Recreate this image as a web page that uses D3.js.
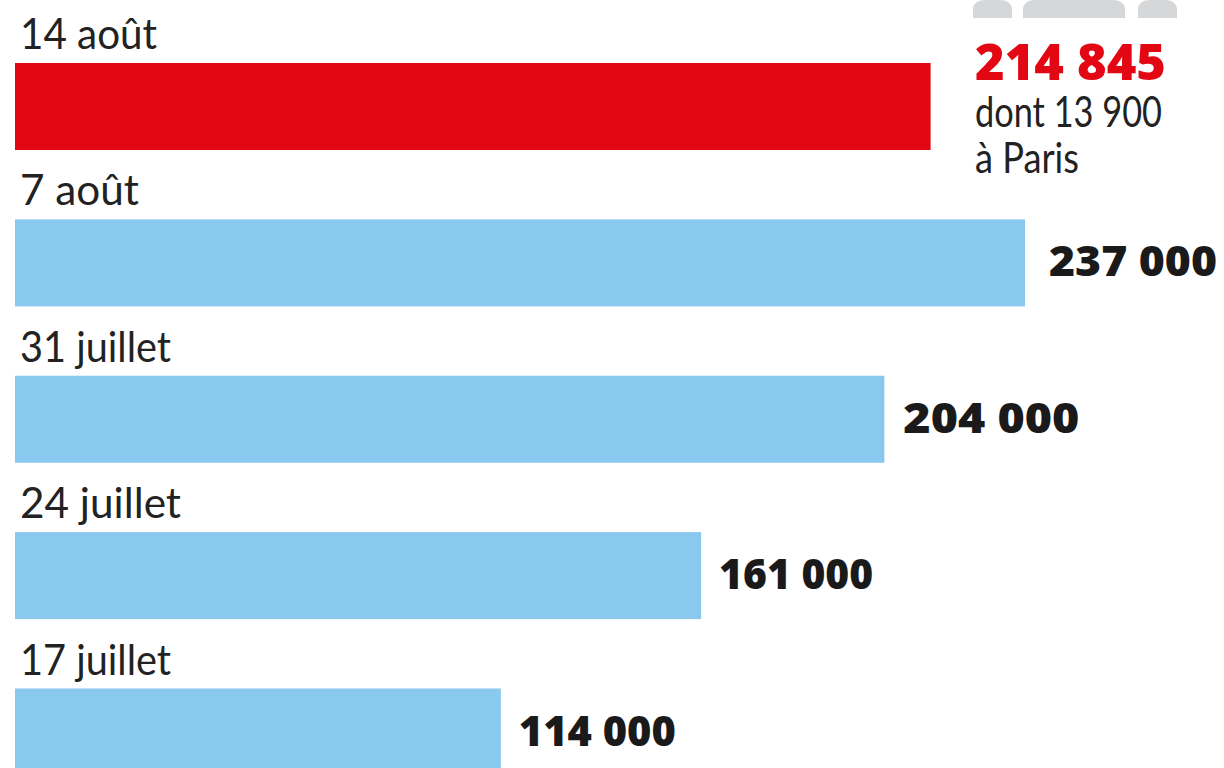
<!DOCTYPE html>
<html><head><meta charset="utf-8"><script src="https://cdn.jsdelivr.net/npm/d3@7/dist/d3.min.js"></script>
<style>html,body{margin:0;background:#fff}svg{display:block}</style></head><body><svg id="c" width="1224" height="768"></svg>
<script>
const dates = ["14 août","7 août","31 juillet","24 juillet","17 juillet"];
const values = [214845,237000,204000,161000,114000];
const valueLabels = ["214 845","237 000","204 000","161 000","114 000"];
const barColors = ["#e30613","#89c8ef","#89c8ef","#89c8ef","#89c8ef"];
const noteLines = ["dont 13 900","à Paris"];
// Horizontal extent of each text run, so the fallback fonts set to the same measure
const dateWidths = [137,119,151,161,151];
const valueWidths = [191,168,176,154,157];
const valueGaps = [44,24,19,18,18];
const noteWidths = [187,104];

const svg = d3.select("#c");
const x = d3.scaleLinear().domain([0,237000]).range([15,1025]);
const y = d3.scalePoint().domain(dates).range([63,688.5]);
const bh = 87;
const light = "'Lato','Roboto',sans-serif";
const heavy = "'Open Sans','Lato',sans-serif";

// Foot of the pictogram cropped by the top edge
const foot = d3.path();
[[973,1012,18],[1023,1125,18],[1138,1177,18]].forEach(([a,b,h])=>{
  foot.moveTo(a,h); foot.lineTo(a,8); foot.quadraticCurveTo(a+2,0,a+12,0);
  foot.lineTo(b-12,0); foot.quadraticCurveTo(b-2,0,b,8); foot.lineTo(b,h); foot.closePath();
});
svg.append("path").attr("d",foot.toString()).attr("fill","#d5d7d9");

svg.selectAll("rect.bar").data(values).join("rect").attr("class","bar")
 .attr("x",x(0)).attr("y",(d,i)=>y(dates[i])).attr("height",bh)
 .attr("width",d=>x(d)-x(0)).attr("fill",(d,i)=>barColors[i]);

svg.selectAll("text.date").data(dates).join("text").attr("class","date")
 .attr("x",20).attr("y",d=>y(d)-14).text(d=>d)
 .attr("textLength",(d,i)=>dateWidths[i]).attr("lengthAdjust","spacingAndGlyphs")
 .attr("font-family",light).attr("font-weight",400).attr("font-size",42).attr("fill","#222");

svg.selectAll("text.val").data(values).join("text").attr("class","val")
 .attr("x",(d,i)=>i==0?975:x(d)+valueGaps[i]).attr("y",(d,i)=>y(dates[i])+(i==0?17:57))
 .text((d,i)=>valueLabels[i])
 .attr("textLength",(d,i)=>valueWidths[i]).attr("lengthAdjust","spacingAndGlyphs")
 .attr("font-family",heavy).attr("font-weight",800)
 .attr("font-size",(d,i)=>i==0?50:42).attr("fill",(d,i)=>i==0?"#e30613":"#1a1a1a");

svg.selectAll("text.note").data(noteLines).join("text").attr("class","note")
 .attr("x",975).attr("y",(d,i)=>127+i*46).text(d=>d)
 .attr("textLength",(d,i)=>noteWidths[i]).attr("lengthAdjust","spacingAndGlyphs")
 .attr("font-family",light).attr("font-size",42).attr("fill","#222");
</script></body></html>
